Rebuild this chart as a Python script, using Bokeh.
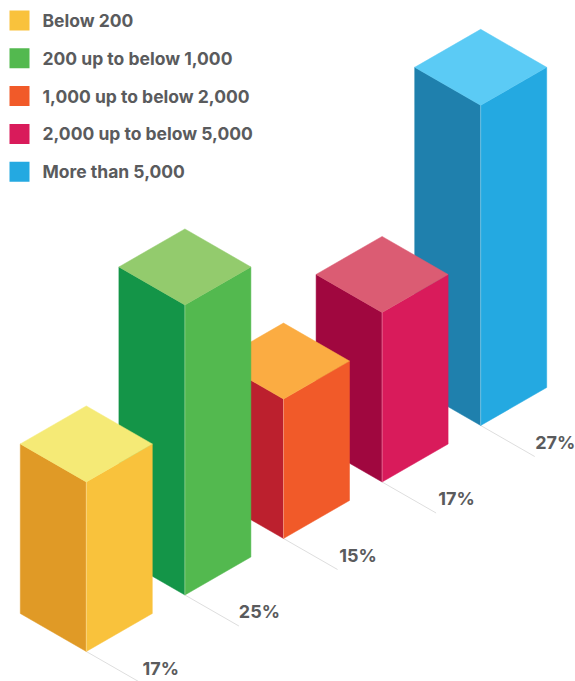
from bokeh.embed import file_html
from bokeh.models import ColumnDataSource
from bokeh.plotting import figure
from bokeh.resources import INLINE
from bokeh.core.properties import value

categories = ["Below 200", "200 up to below 1,000", "1,000 up to below 2,000",
              "2,000 up to below 5,000", "More than 5,000"]
shares = [17, 25, 15, 17, 27]
share_labels = ["17%", "25%", "15%", "17%", "27%"]
top_colors = ["#F5EA76", "#93CB6D", "#FBAC42", "#DB5C73", "#5BCBF5"]
left_colors = ["#E09A26", "#149548", "#BC202E", "#A0073F", "#1F80AD"]
right_colors = ["#F9C23C", "#53B94F", "#F15A29", "#D91B5B", "#24A9E1"]

# Isometric layout, in page pixels
FRONT_X0, FRONT_Y0 = 85.8, 651.0
STEP_X, STEP_Y = 98.6, -56.5
HALF_W, HALF_D = 66.0, 38.0
BASE_SHARE, PX_PER_POINT = 5.74, 15.06
TEXT_COLOR = "#5A5B5D"
FONT = value("Inter")

p = figure(width=575, height=681, x_range=(0, 575), y_range=(681, 0),
           toolbar_location=None, output_backend="svg", min_border=0,
           outline_line_color=None, background_fill_color="white",
           border_fill_color="white")
p.axis.visible = False
p.grid.visible = False

# Leader lines and labels run along the floor, so they go under the bars
for i, label in enumerate(share_labels):
    fx, fy = FRONT_X0 + i * STEP_X, FRONT_Y0 + i * STEP_Y
    p.line([fx, fx + 54], [fy, fy + 31], line_color="#DEDEDE", line_width=1)
    p.text([fx + 74.5], [fy + 16.5], text=[label], text_font=FONT,
           text_font_size="18px", text_font_style="bold", text_color=TEXT_COLOR,
           text_align="center", text_baseline="middle")

# Painted from the back of the row to the front
for i in reversed(range(len(shares))):
    fx, fy = FRONT_X0 + i * STEP_X, FRONT_Y0 + i * STEP_Y
    h = (shares[i] - BASE_SHARE) * PX_PER_POINT
    top_y = fy - h
    faces = ColumnDataSource(dict(
        xs=[[fx - HALF_W, fx, fx, fx - HALF_W],
            [fx, fx + HALF_W, fx + HALF_W, fx],
            [fx, fx + HALF_W, fx, fx - HALF_W]],
        ys=[[fy - HALF_D, fy, top_y, top_y - HALF_D],
            [fy, fy - HALF_D, top_y - HALF_D, top_y],
            [top_y, top_y - HALF_D, top_y - 2 * HALF_D, top_y - HALF_D]],
        color=[left_colors[i], right_colors[i], top_colors[i]],
    ))
    p.patches("xs", "ys", source=faces, fill_color="color", line_color="color", line_width=0.5)
    p.line([fx, fx], [fy, top_y], line_color="white", line_alpha=0.3, line_width=1)

# Key in the top left corner
key_step = 37.8
for i, name in enumerate(categories):
    cy = 20 + i * key_step
    p.quad(left=[9], right=[29], top=[cy - 10], bottom=[cy + 10],
           fill_color=right_colors[i], line_color=None)
    p.text([42], [cy], text=[name], text_font=FONT, text_font_size="17.5px",
           text_font_style="bold", text_color=TEXT_COLOR,
           text_align="left", text_baseline="middle")

open("out.html", "w").write(file_html(p, INLINE))
